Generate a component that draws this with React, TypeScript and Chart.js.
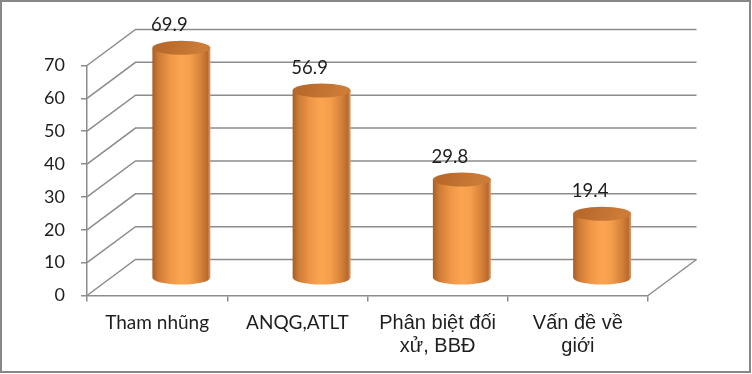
import React, { useEffect, useRef } from 'react';
import { Chart, registerables } from 'chart.js';

Chart.register(...registerables);

// ---- data ----
const categories = ['Tham nhũng', 'ANQG,ATLT', 'Phân biệt đối xử, BBĐ', 'Vấn đề về giới'];
const tickLabelLines = [['Tham nhũng'], ['ANQG,ATLT'], ['Phân biệt đối', 'xử, BBĐ'], ['Vấn đề về', 'giới']];
const values = [69.9, 56.9, 29.8, 19.4];
const valueLabels = ['69.9', '56.9', '29.8', '19.4'];
const yMin = 0;
const yMax = 70;
const yStep = 10;

// ---- style ----
const GRID = '#8c8c8c';
const TEXT = '#1e1e1e';
const DX = 48.5;
const DY = -36;
const RADIUS = 29;
const RY = 7;

const frame3d = {
  id: 'frame3d',
  beforeDatasetsDraw(chart: any) {
    const { ctx, chartArea: a } = chart;
    const ys = chart.scales.y;
    ctx.save();
    ctx.strokeStyle = GRID;
    ctx.lineWidth = 1.5;
    ys.ticks.forEach((t: any) => {
      const yf = ys.getPixelForValue(t.value);
      const yb = yf + DY;
      ctx.beginPath();
      ctx.moveTo(a.left, yf);
      ctx.lineTo(a.left + DX, yb);
      ctx.lineTo(a.right + DX, yb);
      ctx.stroke();
    });
    const y0 = ys.getPixelForValue(yMin);
    ctx.beginPath();
    ctx.moveTo(a.right, y0);
    ctx.lineTo(a.right + DX, y0 + DY);
    ctx.stroke();
    ctx.restore();
  },
  afterDatasetsDraw(chart: any) {
    const { ctx } = chart;
    const ys = chart.scales.y;
    const meta = chart.getDatasetMeta(0);
    const y0 = ys.getPixelForValue(yMin) + DY / 2;
    meta.data.forEach((bar: any, i: number) => {
      const cx = bar.x + DX / 2;
      const yt = ys.getPixelForValue(values[i]) + DY / 2;
      const l = cx - RADIUS;
      const r = cx + RADIUS;
      // body
      const g = ctx.createLinearGradient(l, 0, r, 0);
      g.addColorStop(0, '#a95c25');
      g.addColorStop(0.1, '#cc7a36');
      g.addColorStop(0.3, '#ee9646');
      g.addColorStop(0.5, '#fba551');
      g.addColorStop(0.65, '#f59e4c');
      g.addColorStop(0.85, '#d27f38');
      g.addColorStop(0.95, '#b9692c');
      g.addColorStop(1, '#d8a27c');
      ctx.save();
      ctx.beginPath();
      ctx.moveTo(l, yt);
      ctx.lineTo(l, y0);
      ctx.ellipse(cx, y0, RADIUS, RY, 0, Math.PI, 0, true);
      ctx.lineTo(r, yt);
      ctx.closePath();
      ctx.fillStyle = g;
      ctx.fill();
      // top
      const gt = ctx.createLinearGradient(cx - RADIUS * 0.6, yt - RY, cx + RADIUS * 0.6, yt + RY);
      gt.addColorStop(0, '#b8692b');
      gt.addColorStop(1, '#cd7c38');
      ctx.beginPath();
      ctx.ellipse(cx, yt, RADIUS, RY, 0, 0, Math.PI * 2);
      ctx.fillStyle = gt;
      ctx.fill();
      // label
      ctx.fillStyle = TEXT;
      ctx.font = '18.5px Lato';
      ctx.textAlign = 'center';
      ctx.textBaseline = 'middle';
      ctx.fillText(valueLabels[i], cx - 12, yt - 23);
      ctx.restore();
    });
  },
  afterDraw(chart: any) {
    const { ctx } = chart;
    ctx.save();
    ctx.strokeStyle = '#878787';
    ctx.lineWidth = 2;
    ctx.strokeRect(1, 1, 749, 371);
    ctx.restore();
  },
};

export default function App() {
  const ref = useRef<HTMLCanvasElement | null>(null);
  useEffect(() => {
    if (!ref.current) return;
    const chart = new Chart(ref.current, {
      type: 'bar',
      data: {
        labels: tickLabelLines,
        datasets: [
          {
            label: 'values',
            data: values,
            backgroundColor: 'rgba(0,0,0,0)',
            borderWidth: 0,
          },
        ],
      },
      options: {
        animation: false,
        responsive: false,
        maintainAspectRatio: false,
        devicePixelRatio: 1,
        layout: { padding: { left: 0, top: 65.5, right: 104, bottom: 0 } },
        plugins: { legend: { display: false }, tooltip: { enabled: false } },
        scales: {
          x: {
            offset: true,
            grid: { offset: true, drawOnChartArea: false, drawTicks: true, tickLength: 6, color: GRID, lineWidth: 1.5 },
            border: { display: true, color: GRID, width: 1.5 },
            ticks: {
              color: TEXT,
              padding: 10,
              maxRotation: 0,
              autoSkip: false,
              font: (c: any) =>
                c.index >= 2
                  ? { family: 'Liberation Sans', size: 20, lineHeight: 1.15 }
                  : { family: 'Lato', size: 19, lineHeight: 1.15 },
            },
            afterFit: (s: any) => {
              s.height = 78.5;
            },
          },
          y: {
            min: yMin,
            max: yMax,
            ticks: { stepSize: yStep, padding: 16, color: TEXT, font: { family: 'Lato', size: 18 } },
            grid: { drawOnChartArea: false, tickLength: 6, color: GRID, lineWidth: 1.5 },
            border: { color: GRID, width: 1.5 },
            afterFit: (s: any) => {
              s.width = 87;
            },
          },
        },
      },
      plugins: [frame3d],
    });
    return () => chart.destroy();
  }, []);
  return (
    <div style={{ position: 'absolute', left: 0, top: 0, width: 752, height: 374, background: '#fff' }}>
      <canvas ref={ref} width={752} height={374} style={{ width: 752, height: 374 }} aria-label={categories.join(', ')} />
    </div>
  );
}
